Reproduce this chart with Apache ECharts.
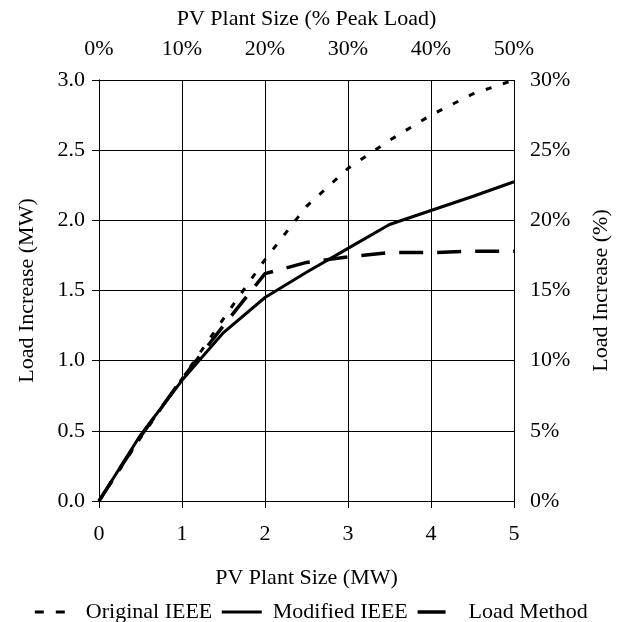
<!DOCTYPE html>
<html>
<head>
<meta charset="utf-8">
<script src="https://cdn.jsdelivr.net/npm/echarts@6/dist/echarts.min.js"></script>
<style>
  html, body { margin: 0; padding: 0; background: #fff; }
  #chart { width: 621px; height: 622px; }
</style>
</head>
<body>
<div id="chart"></div>
<script>
// PV plant size (MW) at which each method was evaluated
const plantSizeMW = [0, 0.5, 1, 1.5, 2, 2.5, 3, 3.5, 4, 4.5, 5];

// Load increase (MW) for each method
const originalIEEE = [0, 0.45, 0.87, 1.30, 1.72, 2.10, 2.37, 2.57, 2.75, 2.90, 3.00];
const modifiedIEEE = [0, 0.47, 0.86, 1.20, 1.45, 1.63, 1.80, 1.97, 2.07, 2.17, 2.275];
const loadMethod   = [0, 0.46, 0.87, 1.25, 1.62, 1.70, 1.74, 1.77, 1.77, 1.78, 1.78];

const seriesNames = ['Original IEEE', 'Modified IEEE', 'Load Method'];

const FONT = 'Liberation Serif';
const FS = 22;

function pairs(ys) {
  return plantSizeMW.map((x, i) => [x, ys[i]]);
}

const axisCommon = {
  axisLine: { show: true, lineStyle: { color: '#000', width: 1 } },
  axisTick: { show: true, length: 7, lineStyle: { color: '#000', width: 1 } },
  axisLabel: { color: '#000', fontFamily: FONT, fontSize: FS },
  nameTextStyle: { color: '#000', fontFamily: FONT, fontSize: FS },
  nameLocation: 'middle'
};

const chart = echarts.init(document.getElementById('chart'), null, { renderer: 'canvas' });

chart.setOption({
  animation: false,
  backgroundColor: '#fff',
  grid: { left: 99, right: 107, top: 80, bottom: 121, containLabel: false },
  xAxis: [
    Object.assign({}, axisCommon, {
      type: 'value', position: 'bottom', min: 0, max: 5, interval: 1,
      name: 'PV Plant Size (MW)', nameGap: 66,
      axisLabel: Object.assign({}, axisCommon.axisLabel, { margin: 22 }),
      splitLine: { show: true, lineStyle: { color: '#000', width: 1 } }
    }),
    Object.assign({}, axisCommon, {
      type: 'value', position: 'top', min: 0, max: 50, interval: 10,
      name: 'PV Plant Size (% Peak Load)', nameGap: 50,
      axisLabel: Object.assign({}, axisCommon.axisLabel, { margin: 20, formatter: '{value}%' }),
      splitLine: { show: false }
    })
  ],
  yAxis: [
    Object.assign({}, axisCommon, {
      type: 'value', position: 'left', min: 0, max: 3, interval: 0.5,
      name: 'Load Increase (MW)', nameGap: 61, nameRotate: 90,
      axisLabel: Object.assign({}, axisCommon.axisLabel, {
        margin: 14, formatter: v => v.toFixed(1)
      }),
      splitLine: { show: true, lineStyle: { color: '#000', width: 1 } }
    }),
    Object.assign({}, axisCommon, {
      type: 'value', position: 'right', min: 0, max: 30, interval: 5,
      name: 'Load Increase (%)', nameGap: 76, nameRotate: 90,
      axisLabel: Object.assign({}, axisCommon.axisLabel, { margin: 16, formatter: '{value}%' }),
      splitLine: { show: false }
    })
  ],
  legend: {
    bottom: -6,
    left: 'center',
    itemWidth: 40,
    itemHeight: 10,
    itemGap: 8,
    itemStyle: { opacity: 0 },
    textStyle: { color: '#000', fontFamily: FONT, fontSize: FS, padding: [0, 0, 0, 6] },
    data: [
      { name: seriesNames[0], lineStyle: { width: 3, type: [9, 12] } },
      { name: seriesNames[1], lineStyle: { width: 3, type: 'solid' } },
      { name: seriesNames[2], lineStyle: { width: 3.5, type: [28, 40] } }
    ]
  },
  series: [
    {
      name: seriesNames[0], type: 'line', xAxisIndex: 0, yAxisIndex: 0,
      data: pairs(originalIEEE), symbol: 'none', smooth: false,
      lineStyle: { color: '#000', width: 3, type: [6, 12] },
      itemStyle: { color: '#000' }
    },
    {
      name: seriesNames[1], type: 'line', xAxisIndex: 0, yAxisIndex: 0,
      data: pairs(modifiedIEEE), symbol: 'none', smooth: false,
      lineStyle: { color: '#000', width: 3, type: 'solid' },
      itemStyle: { color: '#000' }
    },
    {
      name: seriesNames[2], type: 'line', xAxisIndex: 0, yAxisIndex: 0,
      data: pairs(loadMethod), symbol: 'none', smooth: false,
      lineStyle: { color: '#000', width: 3.5, type: [24, 14] },
      itemStyle: { color: '#000' }
    }
  ]
});
</script>
</body>
</html>
